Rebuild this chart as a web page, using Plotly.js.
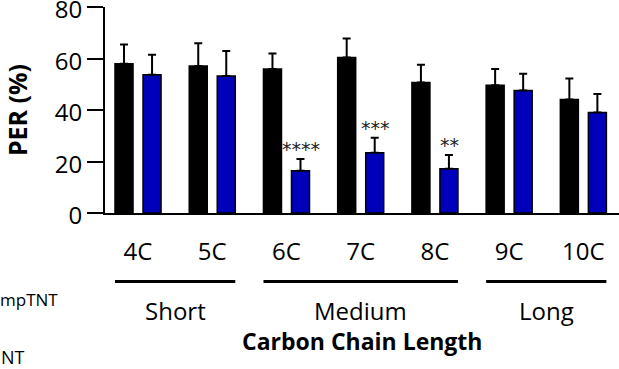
<!DOCTYPE html>
<html>
<head>
<meta charset="utf-8">
<script src="https://cdn.plot.ly/plotly-3.0.1.min.js"></script>
<style>html,body{margin:0;padding:0;background:#fff;}#chart{width:619px;height:369px;}</style>
</head>
<body>
<div id="chart"></div>
<script>
const categories = ['4C', '5C', '6C', '7C', '8C', '9C', '10C'];
const controlValues = [58.0, 57.1, 55.9, 60.4, 50.7, 49.6, 44.1];
const controlErrors = [7.4, 8.8, 6.0, 7.4, 6.9, 6.3, 8.1];
const tntValues = [53.7, 53.2, 16.4, 23.4, 17.2, 47.6, 39.0];
const tntErrors = [7.8, 9.7, 4.6, 5.8, 5.3, 6.5, 7.2];
const sigLabels = ['', '', '****', '***', '**', '', ''];
const groupNames = ['Short', 'Medium', 'Long'];
const groupFirst = [0, 2, 5];
const groupLast = [1, 4, 6];
const legendFragments = ['mpTNT', 'NT'];
const yTicks = [0, 20, 40, 60, 80];

const FONT = '"Open Sans", "Noto Sans", Arial, sans-serif';
const zeros = categories.map(() => 0);

const traces = [
  {
    type: 'bar', name: 'control', x: categories, y: controlValues,
    marker: {color: '#000000', line: {color: '#000000', width: 1.5}},
    error_y: {type: 'data', symmetric: false, array: controlErrors, arrayminus: zeros,
              color: '#000000', thickness: 2, width: 4},
    showlegend: false, hoverinfo: 'skip'
  },
  {
    type: 'bar', name: 'TNT', x: categories, y: tntValues,
    marker: {color: '#0000BB', line: {color: '#000000', width: 1.5}},
    error_y: {type: 'data', symmetric: false, array: tntErrors, arrayminus: zeros,
              color: '#000000', thickness: 2, width: 4},
    showlegend: false, hoverinfo: 'skip'
  }
];

const annotations = [];
const shapes = [];
// significance stars above blue bars
categories.forEach((c, i) => {
  if (sigLabels[i]) {
    annotations.push({
      x: i + 0.2, xref: 'x', y: tntValues[i] + tntErrors[i] + 4.0, yref: 'y',
      text: sigLabels[i], showarrow: false, xanchor: 'center', yanchor: 'middle',
      font: {family: '"DejaVu Sans", sans-serif', size: 19, color: '#222222'}
    });
  }
});
// group lines and names
groupNames.forEach((g, k) => {
  shapes.push({
    type: 'line', xref: 'x', yref: 'paper',
    x0: groupFirst[k] - 0.31, x1: groupLast[k] + 0.31, y0: -0.333, y1: -0.333,
    line: {color: '#000000', width: 3}
  });
  annotations.push({
    x: (groupFirst[k] + groupLast[k]) / 2, xref: 'x', y: -0.471, yref: 'paper',
    text: g, showarrow: false, xanchor: 'center', yanchor: 'middle',
    font: {family: FONT, size: 24, color: '#000000'}
  });
});
// x axis title
annotations.push({
  x: 0.5, xref: 'paper', y: -0.621, yref: 'paper',
  text: '<b>Carbon Chain Length</b>', showarrow: false, xanchor: 'center', yanchor: 'middle',
  font: {family: FONT, size: 23, color: '#000000'}
});
// cropped legend fragments (the reference is cut at its left edge)
annotations.push({
  x: -0.0875, xref: 'paper', y: -0.422, yref: 'paper', text: legendFragments[0],
  showarrow: false, xanchor: 'right', yanchor: 'middle',
  font: {family: FONT, size: 17, color: '#000000'}
});
annotations.push({
  x: -0.152, xref: 'paper', y: -0.699, yref: 'paper', text: legendFragments[1],
  showarrow: false, xanchor: 'right', yanchor: 'middle',
  font: {family: FONT, size: 18, color: '#000000'}
});

const layout = {
  width: 619, height: 369,
  margin: {l: 105, r: 0, t: 7, b: 156, pad: 0},
  paper_bgcolor: '#ffffff', plot_bgcolor: '#ffffff',
  barmode: 'group', bargap: 0.245, bargroupgap: 0.357,
  font: {family: FONT, color: '#000000'},
  xaxis: {
    type: 'category', range: [-0.445, 6.48], fixedrange: true,
    showline: true, linecolor: '#000000', linewidth: 2,
    ticks: '', showgrid: false, zeroline: false,
    tickfont: {family: FONT, size: 24, color: '#000000'},
    ticklabelstandoff: 16
  },
  yaxis: {
    range: [0, 80], tickvals: yTicks, ticktext: yTicks.map(String), fixedrange: true,
    showline: true, linecolor: '#000000', linewidth: 2,
    ticks: 'outside', ticklen: 16, tickwidth: 2, tickcolor: '#000000',
    showgrid: false, zeroline: false, ticklabeloverflow: 'allow', ticklabelshift: 3,
    tickfont: {family: FONT, size: 24, color: '#000000'},
    title: {text: '<b>PER (%)</b>', font: {family: FONT, size: 25, color: '#000000'}, standoff: 24}
  },
  annotations: annotations,
  shapes: shapes
};

Plotly.newPlot('chart', traces, layout, {staticPlot: true, displayModeBar: false});
</script>
</body>
</html>
